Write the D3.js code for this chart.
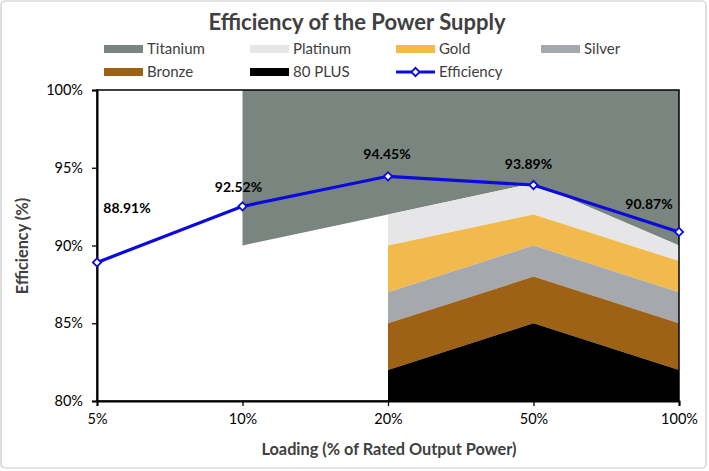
<!DOCTYPE html>
<html><head><meta charset="utf-8">
<script src="https://cdn.jsdelivr.net/npm/d3@7"></script>
<style>body{margin:0;background:#fff}svg{display:block}text{font-family:Lato,"Open Sans",sans-serif}</style>
</head><body><svg id="c" width="709" height="471"></svg>
<script>
const categories = ["5%","10%","20%","50%","100%"];
const efficiency = [88.91, 92.52, 94.45, 93.89, 90.87];
// threshold levels (lower boundary of each band)
const titanium = [null, 90, 92, 94, 90];
const platinum = [null, null, 90, 92, 89];
const gold     = [null, null, 87, 90, 87];
const silver   = [null, null, 85, 88, 85];
const bronze   = [null, null, 82, 85, 82];
const plus80   = [null, null, 80, 80, 80];
const ceiling  = [100, 100, 100, 100, 100];
const yTicks = [80, 85, 90, 95, 100];
const colors = {"Titanium":"#7A8580","Platinum":"#E6E6E8","Gold":"#F2BA4C","Silver":"#A5A8AD","Bronze":"#9E6217","80 PLUS":"#000000"};
// label offsets (style config)
const labelOffsets = [[30,-54],[-4,-19],[-1,-22],[-5,-21],[-30,-28]];

const svg = d3.select("#c");
const x = d3.scalePoint().domain(categories).range([97, 679]);
const y = d3.scaleLinear().domain([80,100]).range([401, 90]);

svg.append("rect").attr("x",1).attr("y",1).attr("width",705).attr("height",467)
  .attr("rx",4).attr("fill","#fff").attr("stroke","#C8C8C8").attr("stroke-width",1.2);

svg.append("text").attr("x",357).attr("y",30).attr("text-anchor","middle")
  .attr("font-size",22).attr("font-weight","bold").attr("fill","#404040")
  .text("Efficiency of the Power Supply");

// bands
const bands = [
  ["Titanium", titanium, ceiling],
  ["Platinum", platinum, titanium],
  ["Gold", gold, platinum],
  ["Silver", silver, gold],
  ["Bronze", bronze, silver],
  ["80 PLUS", plus80, bronze]
];
const area = d3.area().defined(d => d.lo !== null).x(d => x(d.c)).y0(d => y(d.lo)).y1(d => y(d.hi));
bands.forEach(([name, lo, hi]) => {
  const pts = categories.map((c,i) => ({c, lo: lo[i], hi: hi[i]}));
  svg.append("path").attr("d", area(pts)).attr("fill", colors[name]);
});

// plot border
svg.append("rect").attr("x",97).attr("y",90).attr("width",582).attr("height",311)
  .attr("fill","none").attr("stroke","#000").attr("stroke-width",1.5);

// axes
const yAxis = svg.append("g").attr("transform","translate(97,0)")
  .call(d3.axisLeft(y).tickValues(yTicks).tickFormat(d => d + "%").tickSize(5).tickPadding(9));
const xAxis = svg.append("g").attr("transform","translate(0,401)")
  .call(d3.axisBottom(x).tickSize(5).tickPadding(8));
[yAxis, xAxis].forEach(g => {
  g.select(".domain").attr("stroke","#000").attr("stroke-width",2);
  g.selectAll(".tick line").attr("stroke","#000").attr("stroke-width",1.3);
  g.selectAll("text").attr("font-size",14.5).attr("fill","#000").attr("font-family","Lato");
});

// efficiency line
const blue = "#0A0ADC";
const line = d3.line().x((d,i) => x(categories[i])).y(d => y(d));
svg.append("path").attr("d", line(efficiency)).attr("fill","none").attr("stroke",blue).attr("stroke-width",3.2);
const marker = d3.symbol().type(d3.symbolSquare).size(34);
svg.selectAll(".mk").data(efficiency).join("path")
  .attr("transform",(d,i) => `translate(${x(categories[i])},${y(d)}) rotate(45)`)
  .attr("d", marker)
  .attr("fill","#fff").attr("stroke",blue).attr("stroke-width",1.8);
svg.selectAll(".lb").data(efficiency).join("text")
  .attr("x",(d,i) => x(categories[i]) + labelOffsets[i][0])
  .attr("y",(d,i) => y(d) + labelOffsets[i][1] + 5)
  .attr("text-anchor","middle").attr("font-size",14).attr("font-weight","bold").attr("fill","#000")
  .text(d => d.toFixed(2) + "%");

// axis titles
svg.append("text").attr("x",389).attr("y",455).attr("text-anchor","middle")
  .attr("font-size",16.3).attr("font-weight","bold").attr("fill","#404040")
  .text("Loading (% of Rated Output Power)");
svg.append("text").attr("transform","translate(28,246) rotate(-90)").attr("text-anchor","middle")
  .attr("font-size",16.3).attr("font-weight","bold").attr("fill","#404040")
  .text("Efficiency (%)");

// legend
const legItems = [
  {name:"Titanium", lx:104, ly:49},
  {name:"Platinum", lx:250, ly:49},
  {name:"Gold", lx:396, ly:49},
  {name:"Silver", lx:541, ly:49},
  {name:"Bronze", lx:104, ly:72},
  {name:"80 PLUS", lx:250, ly:72},
  {name:"Efficiency", lx:396, ly:72, line:true}
];
legItems.forEach(it => {
  const g = svg.append("g");
  if (it.line) {
    g.append("line").attr("x1",it.lx).attr("x2",it.lx+39).attr("y1",it.ly).attr("y2",it.ly)
      .attr("stroke",blue).attr("stroke-width",3);
    g.append("path").attr("transform",`translate(${it.lx+19.5},${it.ly}) rotate(45)`)
      .attr("d", marker)
      .attr("fill","#fff").attr("stroke",blue).attr("stroke-width",1.8);
  } else {
    g.append("rect").attr("x",it.lx).attr("y",it.ly-4).attr("width",39).attr("height",8).attr("fill",colors[it.name]);
  }
  g.append("text").attr("x",it.lx+43).attr("y",it.ly+5).attr("font-size",15).attr("fill","#404040").text(it.name);
});
</script></body></html>
